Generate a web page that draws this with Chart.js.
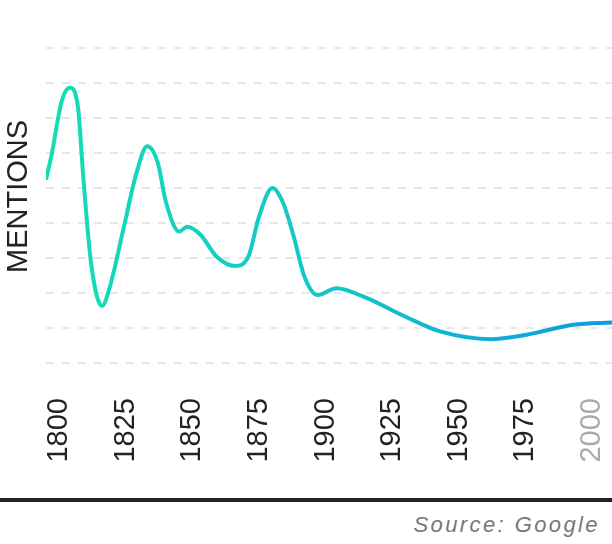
<!DOCTYPE html>
<html lang="en">
  <head>
    <meta charset="UTF-8" />
    <title>Mentions</title>
    <script src="https://cdn.jsdelivr.net/npm/chart.js@4.4.1/dist/chart.umd.min.js"></script>
    <style>
      body { margin: 0; background: #fff; width: 612px; height: 544px; position: relative; overflow: hidden; }
      #myChart { position: absolute; left: 0; top: 0; }
      .rule { position: absolute; left: 0; top: 498px; width: 612px; height: 4px; background: #222; }
      .source {
        position: absolute; right: 12px; top: 514px;
        font: italic 22px/22px "Liberation Sans", Arial, sans-serif;
        letter-spacing: 2.4px; color: #777;
      }
    </style>
  </head>
  <body>
    <canvas id="myChart" width="612" height="470"></canvas>
    <div class="rule"></div>
    <div class="source">Source: Google</div>

    <script>
      const years = [1795, 1797, 1801, 1804, 1807, 1809, 1812, 1816, 1819, 1824, 1829, 1833,
        1837, 1840, 1845, 1848, 1853, 1859, 1866, 1871, 1875, 1880, 1884, 1888, 1892, 1897,
        1904, 1914, 1930, 1943, 1962, 1975, 1993, 2008];
      const mentions = [5.23, 5.9, 7.5, 7.85, 7.3, 5.3, 2.8, 1.63, 2.18, 3.8, 5.43, 6.18,
        5.7, 4.6, 3.75, 3.89, 3.66, 3.04, 2.77, 3.04, 4.18, 4.99, 4.57, 3.61, 2.47, 1.94,
        2.13, 1.9, 1.32, 0.9, 0.68, 0.8, 1.09, 1.16];
      const yearTicks = [1800, 1825, 1850, 1875, 1900, 1925, 1950, 1975, 2000];
      const gridValues = [0, 1, 2, 3, 4, 5, 6, 7, 8, 9];

      const font = "'Liberation Sans', Arial, sans-serif";

      function lineGradient(context) {
        const chart = context.chart;
        const area = chart.chartArea;
        if (!area) return "#14d0c0";
        const g = chart.ctx.createLinearGradient(area.left, 0, area.right, 0);
        g.addColorStop(0, "#13deb3");
        g.addColorStop(0.5, "#14c6c9");
        g.addColorStop(1, "#0c9be0");
        return g;
      }

      const ctx = document.getElementById("myChart").getContext("2d");
      const myChart = new Chart(ctx, {
        type: "line",
        data: {
          datasets: [
            {
              label: "Mentions",
              data: years.map((y, i) => ({ x: y, y: mentions[i] })),
              borderColor: lineGradient,
              borderWidth: 4,
              pointRadius: 0,
              fill: false,
              cubicInterpolationMode: "monotone",
            },
          ],
        },
        options: {
          responsive: false,
          animation: false,
          layout: { padding: { top: 30, right: 0, bottom: 0, left: 0 } },
          plugins: { legend: { display: false }, tooltip: { enabled: false } },
          scales: {
            x: {
              type: "linear",
              min: 1795,
              max: 2007.5,
              afterBuildTicks: (scale) => {
                scale.ticks = yearTicks.map((v) => ({ value: v }));
              },
              afterFit: (scale) => {
                scale.height = 107;
                scale.paddingLeft = 0;
                scale.paddingRight = 0;
              },
              grid: { display: false, drawTicks: false },
              border: { display: false },
              ticks: {
                minRotation: 90,
                maxRotation: 90,
                padding: 35,
                autoSkip: false,
                font: { family: font, size: 29 },
                color: (c) => (c.tick && c.tick.value === 2000 ? "#aaaaaa" : "#222222"),
                callback: (v) => String(v),
              },
            },
            y: {
              min: 0,
              max: 9.5,
              afterBuildTicks: (scale) => {
                scale.ticks = gridValues.map((v) => ({ value: v }));
              },
              afterFit: (scale) => {
                scale.width = 46;
                scale.paddingTop = 0;
                scale.paddingBottom = 0;
              },
              ticks: { display: false },
              border: { display: false, dash: [8, 8] },
              grid: { color: "#e5e7eb", lineWidth: 2, drawTicks: false },
              title: {
                display: true,
                text: "MENTIONS",
                color: "#222",
                font: { family: font, size: 29 },
                padding: { top: 2, bottom: 2 },
              },
            },
          },
        },
      });
    </script>
  </body>
</html>
